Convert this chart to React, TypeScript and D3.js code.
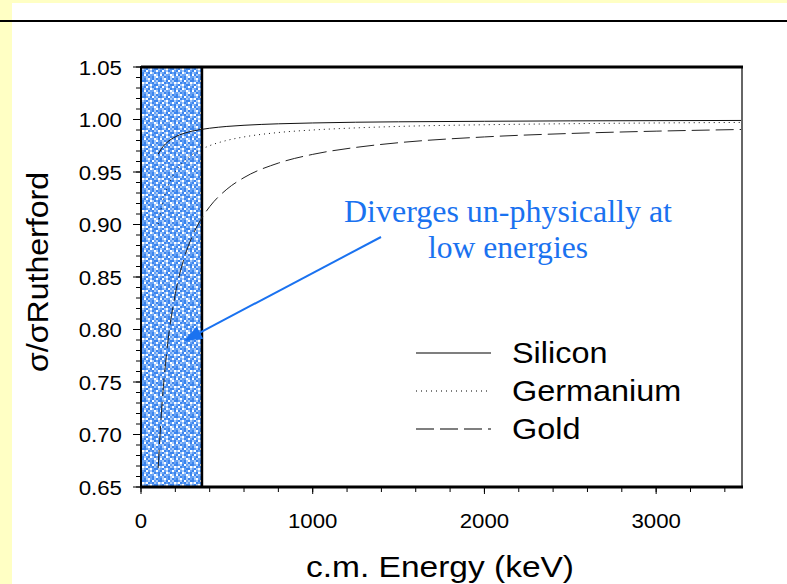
import React from "react";
import * as d3 from "d3";

// ---- Data ----
const energies = [100, 120, 150, 200, 250, 300, 350, 400, 500, 600, 800, 1000, 1250, 1500, 2000, 2500, 3000, 3500];
const silicon = [0.967, 0.9724, 0.9779, 0.9835, 0.9868, 0.989, 0.9905, 0.9917, 0.9934, 0.9945, 0.9959, 0.9967, 0.9974, 0.9978, 0.9983, 0.9987, 0.9989, 0.9991];
const germanium = [0.9004, 0.917, 0.9336, 0.9502, 0.9602, 0.9668, 0.9715, 0.9751, 0.9801, 0.9834, 0.9876, 0.99, 0.992, 0.9934, 0.995, 0.996, 0.9967, 0.9972];
const gold = [0.668, 0.7233, 0.7787, 0.834, 0.8672, 0.8893, 0.9051, 0.917, 0.9336, 0.9447, 0.9585, 0.9668, 0.9734, 0.9779, 0.9834, 0.9867, 0.9889, 0.9905];
const seriesNames = ["Silicon", "Germanium", "Gold"];
const xTicks = [0, 1000, 2000, 3000];
const yTicks = [0.65, 0.7, 0.75, 0.8, 0.85, 0.9, 0.95, 1.0, 1.05];
const bandEnergy = [0, 355];
const annotationLines = ["Diverges un-physically at", "low energies"];

const W = 787;
const H = 584;
const plot = { left: 141, right: 742, top: 67, bottom: 487 };

const ARIAL = "'Liberation Sans', Arial, sans-serif";
const TIMES = "'Liberation Serif', 'Times New Roman', serif";
const BLUE = "#1a72f0";

// pattern for the shaded band
const patternRows = [
  "abcawbca",
  "cwabacbw",
  "bacwbaac",
  "awbcabwb",
  "cbawcaba",
  "wacbbwca",
  "bcabacwb",
  "acwbacab",
];
const patternColors: Record<string, string> = { a: "#3a84ee", b: "#66a1f4", c: "#a6c9f9", w: "#ffffff" };

export default function App() {
  const x = d3.scaleLinear().domain([0, 3500]).range([plot.left, plot.right]);
  const y = d3.scaleLinear().domain([0.65, 1.05]).range([plot.bottom, plot.top]);

  const line = d3
    .line<[number, number]>()
    .x((d) => x(d[0]))
    .y((d) => y(d[1]))
    .curve(d3.curveMonotoneX);

  const series = [silicon, germanium, gold].map((vals) => energies.map((e, i) => [e, vals[i]] as [number, number]));
  const styles = [
    { dash: undefined as string | undefined, color: "#111" },
    { dash: "1,4", color: "#111" },
    { dash: "18,6", color: "#222" },
  ];

  const yMinor = d3.range(65, 106, 1).map((v) => v / 100);
  const xMinor = d3.range(0, 3501, 200);

  const cell = 2;
  const patternCells: React.ReactNode[] = [];
  patternRows.forEach((row, r) =>
    row.split("").forEach((ch, c) =>
      patternCells.push(
        <rect key={`${r}-${c}`} x={c * cell} y={r * cell} width={cell} height={cell} fill={patternColors[ch]} />
      )
    )
  );

  const legendY = [353, 391, 429];

  // arrow geometry
  const arrowStart = [381, 237];
  const arrowEnd = [184, 341];
  const ang = Math.atan2(arrowEnd[1] - arrowStart[1], arrowEnd[0] - arrowStart[0]);
  const headLen = 18;
  const headW = 7;
  const bx = arrowEnd[0] - headLen * Math.cos(ang);
  const by = arrowEnd[1] - headLen * Math.sin(ang);
  const headPts = [
    [arrowEnd[0], arrowEnd[1]],
    [bx + headW * Math.sin(ang), by - headW * Math.cos(ang)],
    [bx - headW * Math.sin(ang), by + headW * Math.cos(ang)],
  ]
    .map((p) => p.join(","))
    .join(" ");

  return (
    <svg width={W} height={H} style={{ position: "absolute", left: 0, top: 0 }}>
      <defs>
        <pattern id="band" patternUnits="userSpaceOnUse" width={cell * 8} height={cell * 8}>
          {patternCells}
        </pattern>
      </defs>
      {/* page background */}
      <rect x={0} y={0} width={W} height={H} fill="#ffffc4" />
      <rect x={12} y={3} width={W - 12} height={H - 3} fill="#ffffff" />
      <line x1={0} x2={W} y1={21} y2={21} stroke="#000" strokeWidth={2} />

      {/* band */}
      <rect
        x={x(bandEnergy[0])}
        y={plot.top}
        width={x(bandEnergy[1]) - x(bandEnergy[0])}
        height={plot.bottom - plot.top}
        fill="url(#band)"
      />
      <line x1={x(bandEnergy[1])} x2={x(bandEnergy[1])} y1={plot.top} y2={plot.bottom} stroke="#000" strokeWidth={2.5} />

      {/* curves */}
      {series.map((s, i) => (
        <path
          key={seriesNames[i]}
          d={line(s) || ""}
          fill="none"
          stroke={styles[i].color}
          strokeWidth={1}
          strokeDasharray={styles[i].dash}
        />
      ))}

      {/* frame */}
      <line x1={plot.right} x2={plot.right} y1={plot.top} y2={plot.bottom} stroke="#666" strokeWidth={2} />
      <line x1={plot.left} x2={plot.right + 1} y1={plot.top} y2={plot.top} stroke="#000" strokeWidth={3} />
      <line x1={plot.left - 1} x2={plot.right + 1} y1={plot.bottom} y2={plot.bottom} stroke="#000" strokeWidth={3} />
      <line x1={plot.left} x2={plot.left} y1={plot.top - 1} y2={plot.bottom} stroke="#000" strokeWidth={2} />

      {/* y ticks */}
      {yMinor.map((v) => (
        <line key={`ym${v}`} x1={plot.left - 5} x2={plot.left} y1={y(v)} y2={y(v)} stroke="#000" strokeWidth={1} />
      ))}
      {yTicks.map((v) => (
        <g key={`y${v}`}>
          <line x1={plot.left - 8} x2={plot.left} y1={y(v)} y2={y(v)} stroke="#000" strokeWidth={1} />
          <text
            transform={`translate(${122},${y(v) + 7.5}) scale(1.06,1)`}
            textAnchor="end"
            fontFamily={ARIAL}
            fontSize={21}
            fill="#000"
          >
            {v.toFixed(2)}
          </text>
        </g>
      ))}

      {/* x ticks */}
      {xMinor.map((v) => (
        <line key={`xm${v}`} x1={x(v)} x2={x(v)} y1={plot.bottom} y2={plot.bottom + 5} stroke="#000" strokeWidth={1} />
      ))}
      {xTicks.map((v) => (
        <g key={`x${v}`}>
          <line x1={x(v)} x2={x(v)} y1={plot.bottom} y2={plot.bottom + 7} stroke="#000" strokeWidth={1} />
          <text
            transform={`translate(${x(v)},${528}) scale(1.06,1)`}
            textAnchor="middle"
            fontFamily={ARIAL}
            fontSize={21}
            fill="#000"
          >
            {v}
          </text>
        </g>
      ))}

      {/* axis titles */}
      <text
        x={440}
        y={577}
        textAnchor="middle"
        fontFamily={ARIAL}
        fontSize={30}
        textLength={268}
        lengthAdjust="spacingAndGlyphs"
        fill="#000"
      >
        c.m. Energy (keV)
      </text>
      <text
        transform={`translate(48,272) rotate(-90)`}
        textAnchor="middle"
        fontFamily={ARIAL}
        fontSize={29}
        textLength={200}
        lengthAdjust="spacingAndGlyphs"
        fill="#000"
      >
        σ/σRutherford
      </text>

      {/* legend */}
      {seriesNames.map((name, i) => (
        <g key={`lg${name}`}>
          <line
            x1={416}
            x2={491}
            y1={legendY[i]}
            y2={legendY[i]}
            stroke="#555"
            strokeWidth={1.3}
            strokeDasharray={styles[i].dash}
          />
          <text
            transform={`translate(512,${legendY[i] + 10}) scale(1.08,1)`}
            fontFamily={ARIAL}
            fontSize={30}
            fill="#000"
          >
            {name}
          </text>
        </g>
      ))}

      {/* annotation */}
      <line
        x1={arrowStart[0]}
        y1={arrowStart[1]}
        x2={bx}
        y2={by}
        stroke={BLUE}
        strokeWidth={2}
      />
      <polygon points={headPts} fill={BLUE} />
      {annotationLines.map((t, i) => (
        <text
          key={t}
          x={508}
          y={222 + i * 36}
          textAnchor="middle"
          fontFamily={TIMES}
          fontSize={31}
          textLength={i === 0 ? 328 : 160}
          lengthAdjust="spacingAndGlyphs"
          fill={BLUE}
        >
          {t}
        </text>
      ))}
    </svg>
  );
}
